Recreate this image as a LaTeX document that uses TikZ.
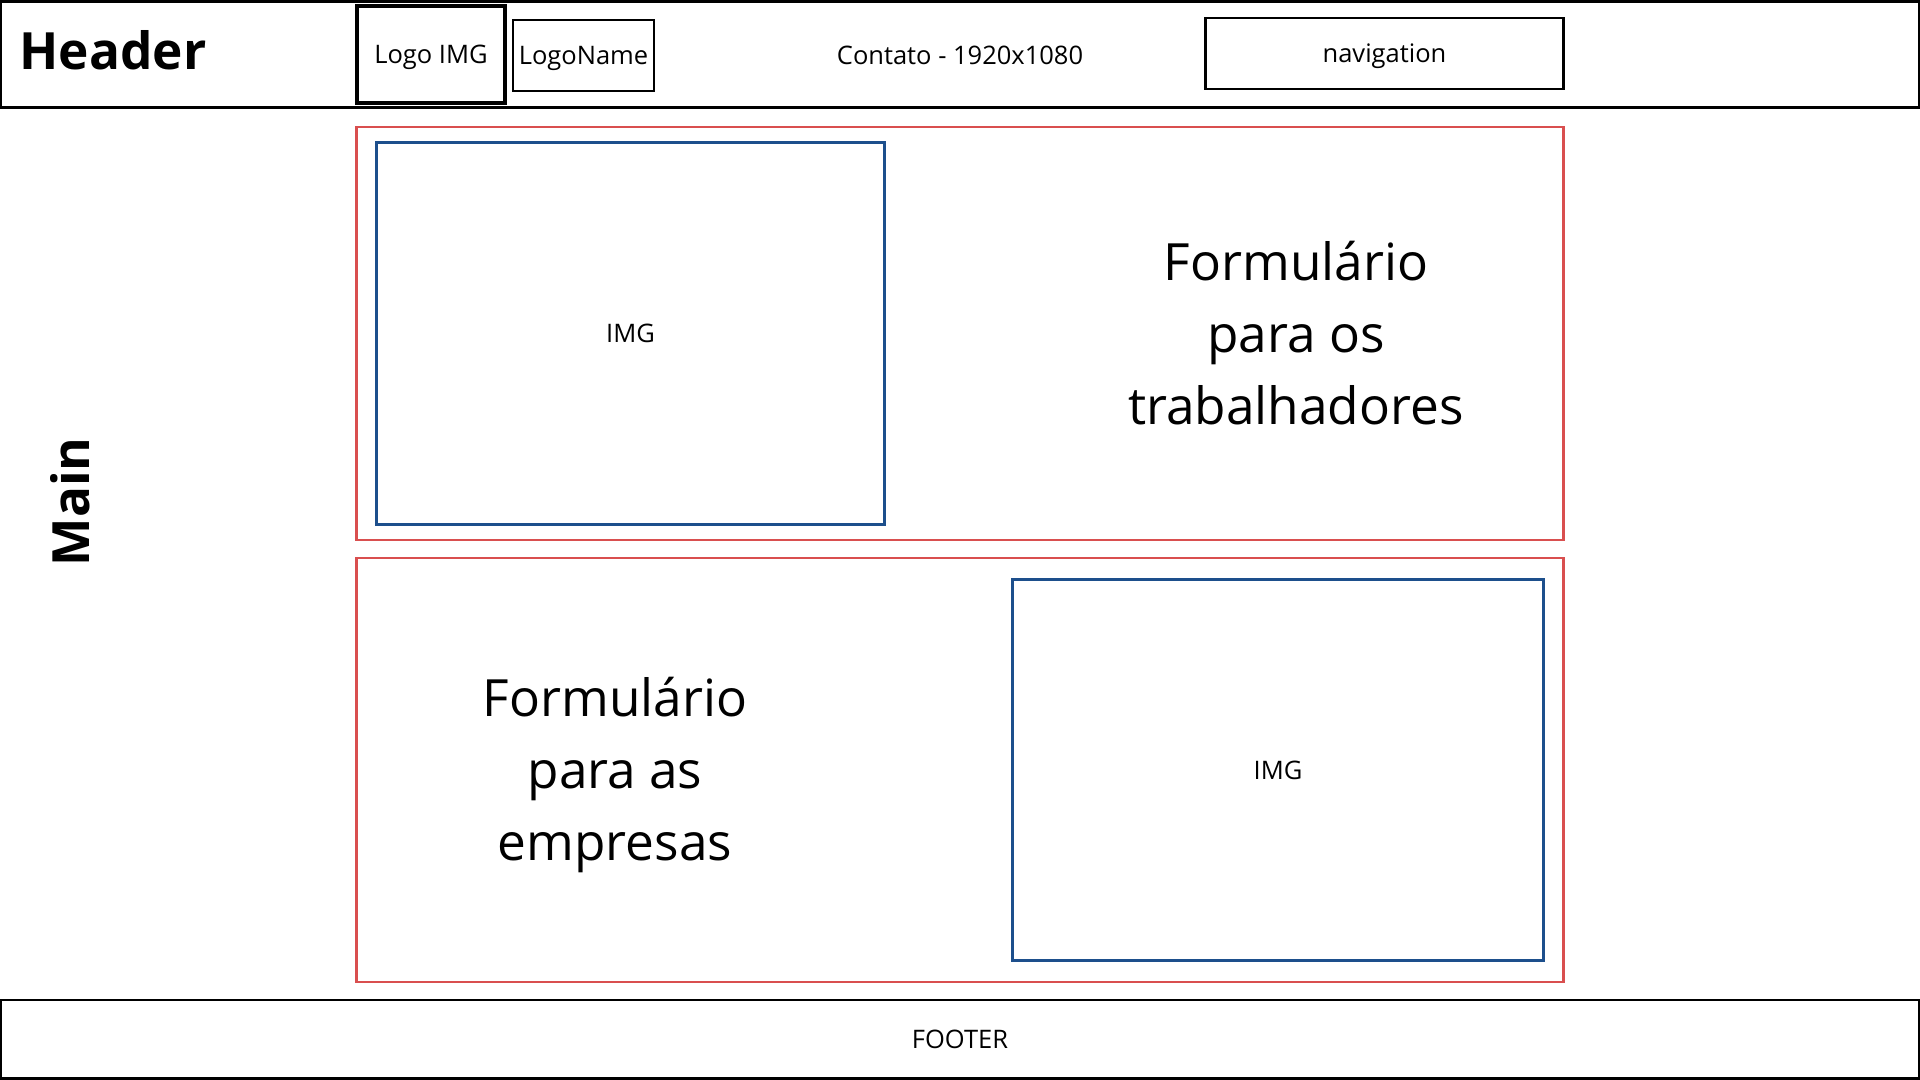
\documentclass[tikz,border=0pt]{standalone}
\usepackage{fontspec}
\setmainfont{Open Sans}
\definecolor{frame}{HTML}{D94F4F}
\definecolor{imgblue}{HTML}{1D4F8C}
\tikzset{
  box/.style={draw=black, line width=0.8pt, inner sep=0pt, outer sep=0pt, font=\fontsize{7.25}{9}\selectfont},
  thickbox/.style={box, line width=0.95pt},
  redframe/.style={draw=frame, line width=0.7pt, inner sep=0pt, outer sep=0pt},
  imgbox/.style={draw=imgblue, line width=0.85pt, inner sep=0pt, outer sep=0pt, font=\fontsize{7.25}{9}\selectfont},
  bigtext/.style={align=center, font=\fontsize{14.6}{20.5}\selectfont, inner sep=0pt},
  title/.style={font=\fontsize{14.6}{17}\selectfont\bfseries, inner sep=0pt},
  small/.style={font=\fontsize{7.25}{9}\selectfont, inner sep=0pt}
}
\begin{document}
\begin{tikzpicture}[x=0.01cm, y=-0.01cm]
\useasboundingbox (0,0) rectangle (1920,1080);
\fill[white] (0,0) rectangle (1920,1080);
% header
\node[box, minimum width=19.17cm, minimum height=1.06cm] (hdr) at (960,54.5) {};
\node[title, anchor=west] (hdrtext) at (19,50) {Header};
\node[thickbox, text depth=0pt, minimum width=1.48cm, minimum height=0.97cm] (logoimg) at (431,54.5) {Logo IMG};
\node[box, text depth=0pt, minimum width=1.41cm, minimum height=0.71cm] (logoname) at (583.5,55.5) {LogoName};
\node[small] (contato) at (960,55.5) {Contato - 1920x1080};
\node[box, text depth=0pt, minimum width=3.57cm, minimum height=0.71cm] (nav) at (1384.5,53.5) {navigation};
% main label
\node[title, rotate=90] (maintext) at (70,502) {Main};
% upper section
\node[redframe, minimum width=12.06cm, minimum height=4.13cm] (sec1) at (960,333.5) {};
\node[imgbox, minimum width=5.07cm, minimum height=3.81cm] (img1) at (630.5,333.5) {IMG};
\node[bigtext] (form1) at (1296,333) {Formulário\\para os\\trabalhadores};
% lower section
\node[redframe, minimum width=12.06cm, minimum height=4.24cm] (sec2) at (960,770) {};
\node[imgbox, minimum width=5.30cm, minimum height=3.80cm] (img2) at (1278,770) {IMG};
\node[bigtext] (form2) at (615,775) {Formulário\\para as\\empresas};
% footer
\node[box, minimum width=19.17cm, minimum height=0.785cm] (ftr) at (960,1039.25) {FOOTER};
\end{tikzpicture}
\end{document}
